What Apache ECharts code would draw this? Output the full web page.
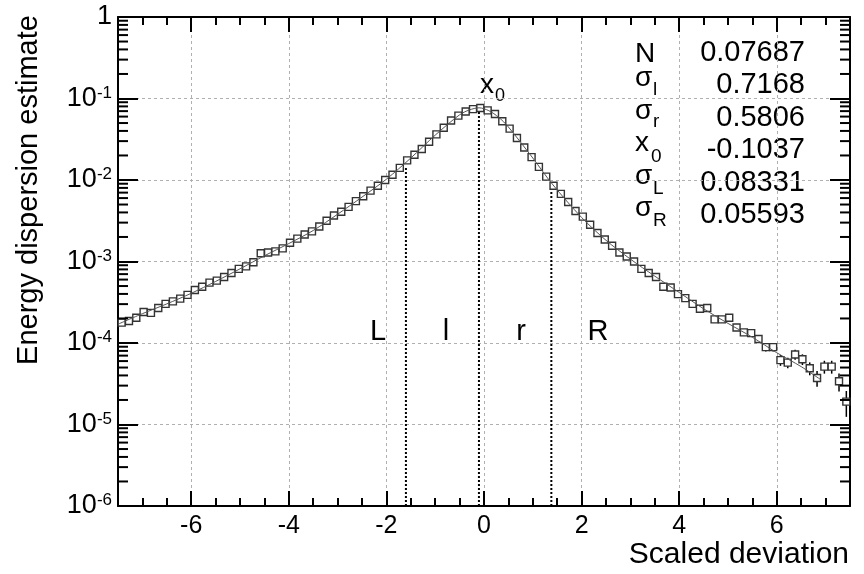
<!DOCTYPE html>
<html><head><meta charset="utf-8">
<script src="https://cdn.jsdelivr.net/npm/echarts@6/dist/echarts.min.js"></script>
<style>html,body{margin:0;padding:0;background:#fff}#c{width:864px;height:574px}</style>
</head><body><div id="c"></div>
<script>
// ---- data ----
const binCenters = [
-7.425,-7.275,-7.125,-6.975,-6.825,-6.675,-6.525,-6.375,-6.225,-6.075,
-5.925,-5.775,-5.625,-5.475,-5.325,-5.175,-5.025,-4.875,-4.725,-4.575,
-4.425,-4.275,-4.125,-3.975,-3.825,-3.675,-3.525,-3.375,-3.225,-3.075,
-2.925,-2.775,-2.625,-2.475,-2.325,-2.175,-2.025,-1.875,-1.725,-1.575,
-1.425,-1.275,-1.125,-0.975,-0.825,-0.675,-0.525,-0.375,-0.225,-0.075,
0.075,0.225,0.375,0.525,0.675,0.825,0.975,1.125,1.275,1.425,
1.575,1.725,1.875,2.025,2.175,2.325,2.475,2.625,2.775,2.925,
3.075,3.225,3.375,3.525,3.675,3.825,3.975,4.125,4.275,4.425,
4.575,4.725,4.875,5.025,5.175,5.325,5.475,5.625,5.775,5.925,
6.075,6.225,6.375,6.525,6.675,6.825,6.975,7.125,7.275,7.425];
const values = [
1.78e-4,1.86e-4,2.04e-4,2.40e-4,2.34e-4,2.69e-4,3.02e-4,3.24e-4,3.50e-4,3.89e-4,
4.47e-4,4.90e-4,5.50e-4,5.82e-4,6.46e-4,7.24e-4,8.13e-4,8.71e-4,9.77e-4,1.26e-3,
1.29e-3,1.33e-3,1.45e-3,1.70e-3,1.91e-3,2.14e-3,2.34e-3,2.69e-3,3.16e-3,3.67e-3,
4.07e-3,4.68e-3,5.50e-3,6.31e-3,7.41e-3,8.51e-3,1.00e-2,1.16e-2,1.41e-2,1.74e-2,
2.04e-2,2.40e-2,2.95e-2,3.63e-2,4.37e-2,5.37e-2,6.17e-2,6.92e-2,7.41e-2,7.64e-2,
7.15e-2,6.46e-2,5.25e-2,4.27e-2,3.27e-2,2.51e-2,1.91e-2,1.45e-2,1.10e-2,8.51e-3,
6.76e-3,5.37e-3,4.17e-3,3.55e-3,2.82e-3,2.24e-3,1.86e-3,1.56e-3,1.29e-3,1.15e-3,
1.00e-3,8.13e-4,7.24e-4,6.46e-4,4.90e-4,4.79e-4,3.98e-4,3.55e-4,3.02e-4,2.63e-4,
2.69e-4,1.95e-4,1.95e-4,2.04e-4,1.55e-4,1.35e-4,1.32e-4,1.12e-4,8.91e-5,8.91e-5,
6.17e-5,5.75e-5,7.24e-5,6.31e-5,4.90e-5,3.72e-5,5.13e-5,5.13e-5,3.39e-5,1.91e-5];
const tailErrStart = 84;
const tailRelErr = [0.08,0.08,0.09,0.10,0.12,0.12,0.15,0.15,0.14,0.15,0.18,0.22,0.18,0.18,0.25,0.35];

const fitX = [-7.5,-7.0,-6.5,-6.0,-5.5,-5.0,-4.5,-4.0,-3.5,-3.0,-2.5,-2.0,-1.5,-1.0,-0.5,-0.3,-0.1,0.1,0.3,0.5,1.0,1.4,2.0,2.5,3.0,3.5,4.0,4.5,5.0,5.5,6.0,6.5,6.9];
const fitY = [1.70e-4,2.29e-4,3.02e-4,4.07e-4,5.69e-4,8.13e-4,1.175e-3,1.66e-3,2.40e-3,3.80e-3,6.17e-3,1.023e-2,1.86e-2,3.55e-2,6.31e-2,7.24e-2,7.69e-2,7.08e-2,5.89e-2,4.47e-2,1.86e-2,8.91e-3,3.47e-3,1.82e-3,1.07e-3,6.61e-4,4.17e-4,2.63e-4,1.74e-4,1.175e-4,7.59e-5,5.13e-5,3.55e-5];

const boundaryX = [-1.60, -0.1037, 1.38];
const boundaryTop = [1.41e-2, 7.3e-2, 8.5e-3];

const xMajorTicks = [-6,-4,-2,0,2,4,6];
const yExponents = [-6,-5,-4,-3,-2,-1,0];

const statNames = ['N','σ','σ','x','σ','σ'];
const statSubs = ['','l','r','0','L','R'];
const statValues = ['0.07687','0.7168','0.5806','-0.1037','0.08331','0.05593'];
const regionLabels = ['L','l','r','R'];

// ---- chart ----
const FONT = '"Liberation Sans", Arial, sans-serif';
const X_MIN = -7.5, X_MAX = 7.5, Y_MIN = 1e-6, Y_MAX = 1;
const minorY = [];
for (let e = yExponents[0]; e < yExponents[yExponents.length-1]; e++)
  for (let k = 2; k <= 9; k++) minorY.push(k * Math.pow(10, e));

const axLine = {show:true, onZero:false, lineStyle:{color:'#000', width:2}};
const tickStyle = {color:'#000', width:2};
const gridDash = {show:true, lineStyle:{color:'#b0b0b0', width:1, type:[3,3]}};

const chart = echarts.init(document.getElementById('c'));

const series = [];
series.push({
  type:'custom', silent:true, clip:false, z:5,
  data: minorY.map(v => [X_MIN, v]),
  renderItem: (params, api) => {
    const v = api.value(1);
    const p = api.coord([X_MIN, v]);
    const q = api.coord([X_MAX, v]);
    return {type:'group', children:[
      {type:'line', shape:{x1:p[0], y1:p[1], x2:p[0]+10, y2:p[1]}, style:{stroke:'#000', lineWidth:2}},
      {type:'line', shape:{x1:q[0]-10, y1:q[1], x2:q[0], y2:q[1]}, style:{stroke:'#000', lineWidth:2}}
    ]};
  }
});
boundaryX.forEach((bx, i) => {
  series.push({
    type:'line', silent:true, symbol:'none', z:2,
    data:[[bx, Y_MIN],[bx, boundaryTop[i]]],
    lineStyle:{color:'#000', width:2, type:[2,2]}
  });
});
series.push({
  type:'custom', silent:true, z:3,
  data: binCenters.map((x, i) => [x, values[i], i >= tailErrStart ? tailRelErr[i - tailErrStart] : 0]),
  renderItem: (params, api) => {
    const x = api.value(0), y = api.value(1), r = api.value(2);
    if (!r) return null;
    const a = api.coord([x, y * (1 + r)]);
    const b = api.coord([x, y * (1 - r)]);
    return {type:'line', shape:{x1:a[0], y1:a[1], x2:b[0], y2:b[1]}, style:{stroke:'#000', lineWidth:1.5}};
  }
});
series.push({
  type:'scatter', z:4, symbol:'rect', symbolSize:7,
  data: binCenters.map((x, i) => [x, values[i]]),
  itemStyle:{color:'#fff', borderColor:'#333', borderWidth:1.4, opacity:1}
});
series.push({
  type:'line', z:6, smooth:0.3, symbol:'none',
  data: fitX.map((x, i) => [x, fitY[i]]),
  lineStyle:{color:'#555', width:1}
});

const graphics = [];
graphics.push({type:'text', x:29, y:190, rotation:Math.PI/2,
  style:{text:'Energy dispersion estimate', fontSize:29, fontFamily:FONT, fill:'#000',
         textAlign:'center', textVerticalAlign:'middle', align:'center', verticalAlign:'middle'}});
graphics.push({type:'text', x:849, y:555,
  style:{text:'Scaled deviation', fontSize:30, fontFamily:FONT, fill:'#000',
         textAlign:'right', textVerticalAlign:'middle', align:'right', verticalAlign:'middle'}});
const statMainY = [54, 78, 111, 143, 176, 208];
const statSubY = [0, 89.5, 122, 156.5, 189, 220.5];
const statSubX = [0, 653, 653, 651, 653, 653];
const statValY = [53, 85, 118, 150, 183, 215];
statNames.forEach((n, i) => {
  graphics.push({type:'text', x:635, y:statMainY[i],
    style:{text:n, fontSize:28, fontFamily:FONT, fill:'#000', textAlign:'left', textVerticalAlign:'middle', align:'left', verticalAlign:'middle'}});
  if (statSubs[i]) graphics.push({type:'text', x:statSubX[i], y:statSubY[i],
    style:{text:statSubs[i], fontSize:19, fontFamily:FONT, fill:'#000', textAlign:'left', textVerticalAlign:'middle', align:'left', verticalAlign:'middle'}});
  graphics.push({type:'text', x:805, y:statValY[i],
    style:{text:statValues[i], fontSize:29, fontFamily:FONT, fill:'#000', textAlign:'right', textVerticalAlign:'middle', align:'right', verticalAlign:'middle'}});
});
const regionX = [378, 446, 521, 598];
regionLabels.forEach((t, i) => {
  graphics.push({type:'text', x:regionX[i], y:332,
    style:{text:t, fontSize:29, fontFamily:FONT, fill:'#000', textAlign:'center', textVerticalAlign:'middle', align:'center', verticalAlign:'middle'}});
});
graphics.push({type:'text', x:480, y:85,
  style:{text:'x', fontSize:28, fontFamily:FONT, fill:'#000', textAlign:'left', textVerticalAlign:'middle', align:'left', verticalAlign:'middle'}});
graphics.push({type:'text', x:495, y:96.5,
  style:{text:'0', fontSize:18, fontFamily:FONT, fill:'#000', textAlign:'left', textVerticalAlign:'middle', align:'left', verticalAlign:'middle'}});

chart.setOption({
  animation:false,
  backgroundColor:'#fff',
  grid:{left:118, right:14, top:17, bottom:68, containLabel:false},
  xAxis:[
    {type:'value', position:'bottom', min:X_MIN, max:X_MAX, interval:0.5,
     axisLine:axLine, axisTick:{show:true, inside:true, length:8, lineStyle:tickStyle},
     axisLabel:{show:false}, splitLine:{show:false}},
    {type:'value', position:'bottom', min:X_MIN, max:X_MAX,
     axisLine:{show:false}, axisTick:{show:true, inside:true, length:15, customValues:xMajorTicks, lineStyle:tickStyle},
     axisLabel:{show:true, customValues:xMajorTicks, fontSize:25, fontFamily:FONT, color:'#000', margin:8},
     splitLine:gridDash},
    {type:'value', position:'top', min:X_MIN, max:X_MAX, interval:0.5,
     axisLine:axLine, axisTick:{show:true, inside:true, length:8, lineStyle:tickStyle},
     axisLabel:{show:false}, splitLine:{show:false}},
    {type:'value', position:'top', min:X_MIN, max:X_MAX,
     axisLine:{show:false}, axisTick:{show:true, inside:true, length:15, customValues:xMajorTicks, lineStyle:tickStyle},
     axisLabel:{show:false}, splitLine:{show:false}}
  ],
  yAxis:[
    {type:'log', logBase:10, position:'left', min:Y_MIN, max:Y_MAX, interval:1,
     axisLine:axLine, axisTick:{show:true, inside:true, length:20, lineStyle:tickStyle},
     axisLabel:{show:true, margin:6, color:'#000',
       formatter: v => { const e = Math.round(Math.log10(v)); return e === 0 ? '{b|1}' : '{b|10}{e|' + e + '}'; },
       rich:{b:{fontSize:27, fontFamily:FONT, color:'#000', lineHeight:28},
             e:{fontSize:17, fontFamily:FONT, color:'#000', verticalAlign:'top', lineHeight:16}}},
     splitLine:gridDash},
    {type:'log', logBase:10, position:'right', min:Y_MIN, max:Y_MAX, interval:1,
     axisLine:axLine, axisTick:{show:true, inside:true, length:20, lineStyle:tickStyle},
     axisLabel:{show:false}, splitLine:{show:false}}
  ],
  series: series,
  graphic: graphics
});
</script></body></html>
